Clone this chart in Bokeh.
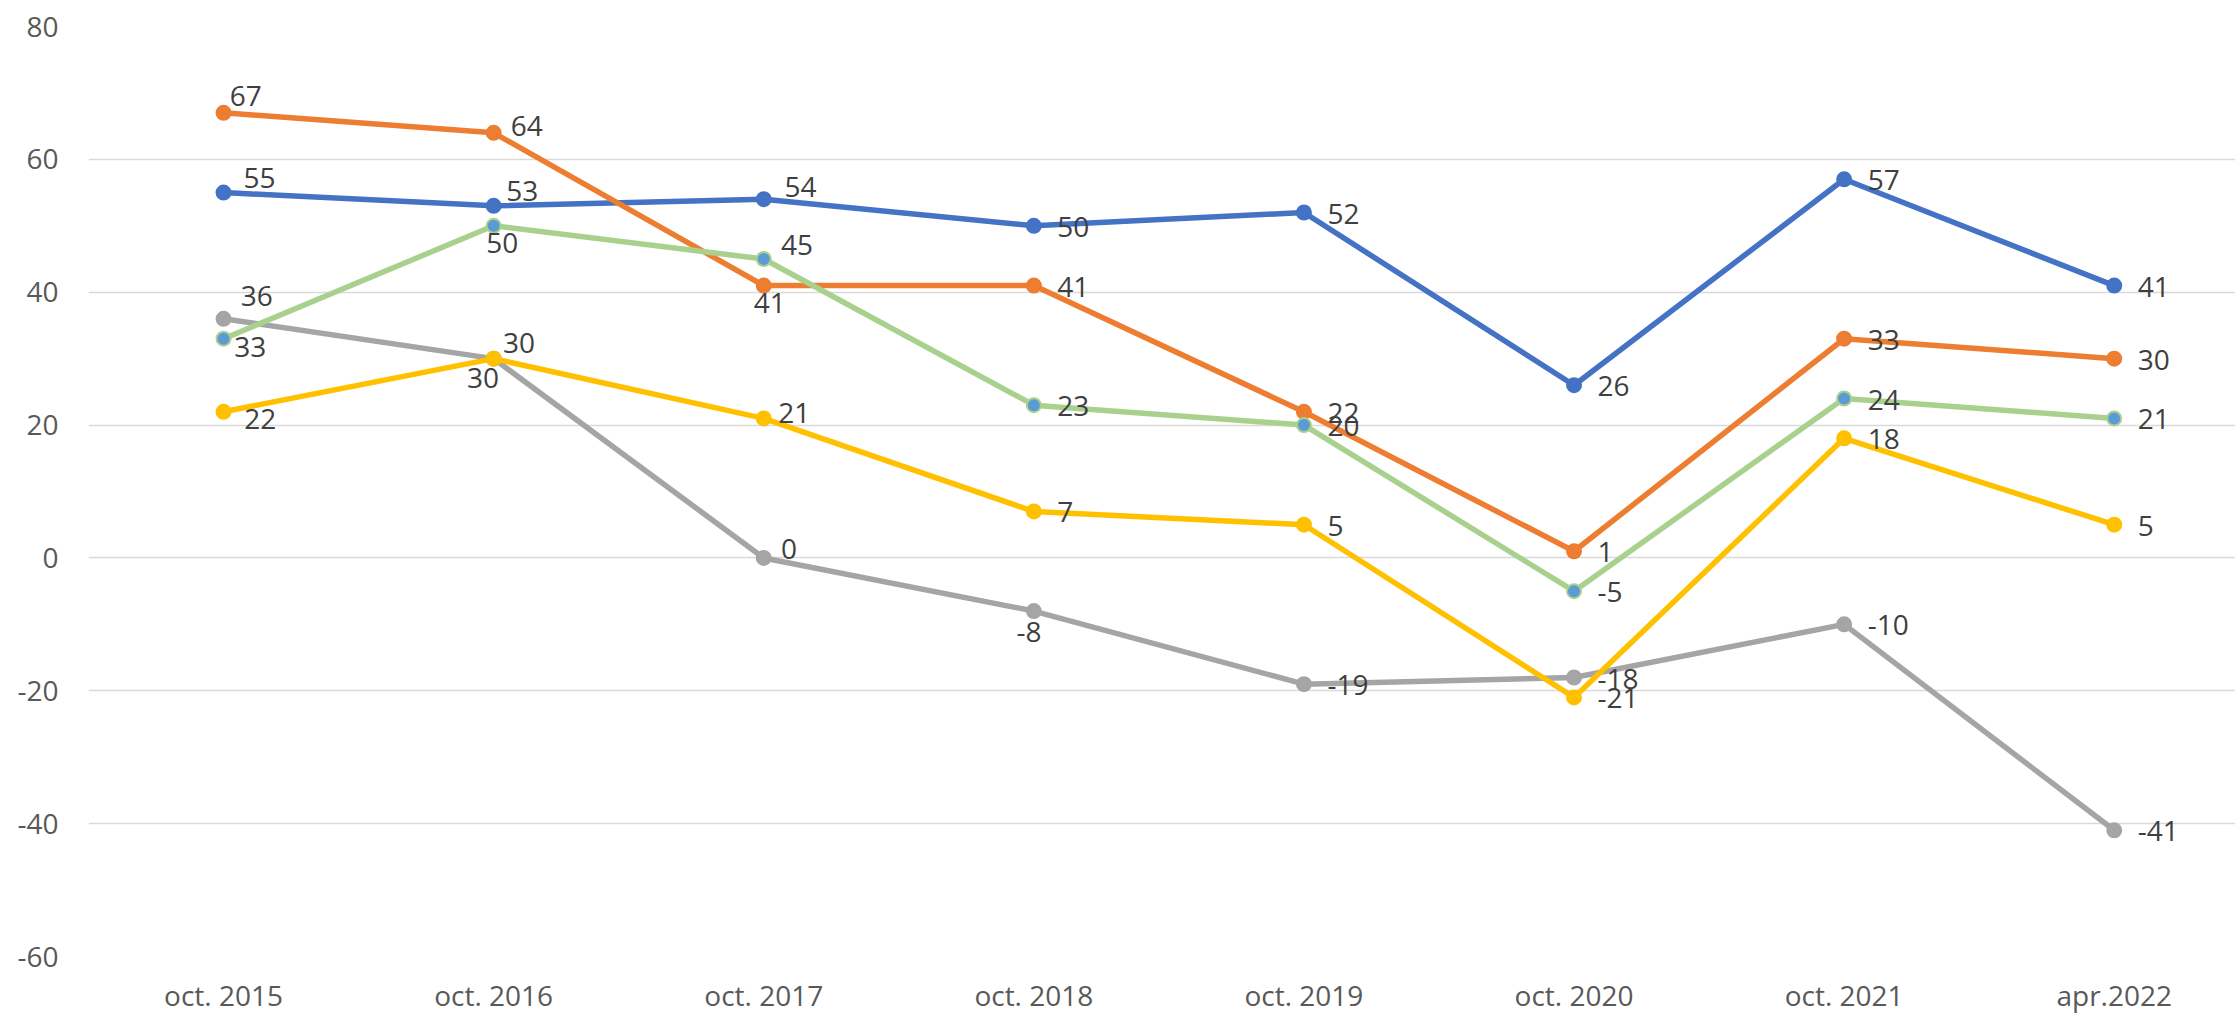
from bokeh.plotting import figure
from bokeh.models import FixedTicker, ColumnDataSource
from bokeh.core.properties import value
from bokeh.embed import file_html
from bokeh.resources import INLINE

# ---- data ----
categories = ["oct. 2015", "oct. 2016", "oct. 2017", "oct. 2018",
              "oct. 2019", "oct. 2020", "oct. 2021", "apr.2022"]
blue = [55, 53, 54, 50, 52, 26, 57, 41]
orange = [67, 64, 41, 41, 22, 1, 33, 30]
gray = [36, 30, 0, -8, -19, -18, -10, -41]
yellow = [22, 30, 21, 7, 5, -21, 18, 5]
green = [33, 50, 45, 23, 20, -5, 24, 21]
y_ticks = [-60, -40, -20, 0, 20, 40, 60, 80]

# ---- label placement (pixels: left edge dx, vertical centre dy) ----
R = (23.5, 1)
blue_lbl = [(20, -15), (12.7, -15), (20.7, -12), R, R, R, R, R]
orange_lbl = [(6.3, -17), (17, -7), (-10, 17.7), R, R, R, R, R]
gray_lbl = [(17.3, -22.3), (-26.6, 19), (17.3, -9.4), (-17.3, 20.6), R, R, R, R]
yellow_lbl = [(20.6, 7.3), (9.4, -16), (14.6, -5.4), R, R, R, R, R]
green_lbl = [(10.7, 8.3), (-7.3, 17.7), (17.3, -14.2), R, R, R, R, R]

FONT = "Open Sans"
xs = list(range(len(categories)))

p = figure(width=2235, height=1016,
           x_range=(-0.5, 7.449), y_range=(-60, 80),
           output_backend="svg", toolbar_location=None,
           min_border_left=88, min_border_top=26,
           min_border_bottom=58, min_border_right=0)

p.outline_line_color = None
p.background_fill_color = "white"
p.border_fill_color = "white"

p.xaxis.ticker = FixedTicker(ticks=xs)
p.xaxis.major_label_overrides = {i: c for i, c in enumerate(categories)}
p.yaxis.ticker = FixedTicker(ticks=y_ticks)
p.yaxis.major_label_overrides = {t: str(t) for t in y_ticks}
for ax in (p.xaxis, p.yaxis):
    ax.axis_line_color = None
    ax.major_tick_line_color = None
    ax.minor_tick_line_color = None
    ax.major_tick_out = 0
    ax.major_tick_in = 0
    ax.major_label_text_font = FONT
    ax.major_label_text_font_size = "28px"
    ax.major_label_text_color = "#595959"
p.yaxis.major_label_standoff = 30
p.xaxis.major_label_standoff = 19

p.xgrid.visible = False
p.ygrid.ticker = FixedTicker(ticks=y_ticks)
p.ygrid.grid_line_color = "#d9d9d9"
p.ygrid.grid_line_width = 1.5

series = [
    (blue, "#4472C4", "#4472C4", "#4472C4", blue_lbl),
    (orange, "#ED7D31", "#ED7D31", "#ED7D31", orange_lbl),
    (gray, "#A5A5A5", "#A5A5A5", "#A5A5A5", gray_lbl),
    (yellow, "#FFC000", "#FFC000", "#FFC000", yellow_lbl),
    (green, "#A9D18E", "#5B9BD5", "#A9D18E", green_lbl),
]

for vals, lc, mfill, mline, _ in series:
    p.line(xs, vals, line_color=lc, line_width=5.5,
           line_join="round", line_cap="round")
    p.scatter(xs, vals, size=14, fill_color=mfill, line_color=mline,
              line_width=2)

for vals, _, _, _, lbl in series:
    src = ColumnDataSource(dict(
        x=xs, y=vals, t=[str(v) for v in vals],
        dx=[d[0] for d in lbl], dy=[d[1] for d in lbl]))
    p.text(x="x", y="y", text="t", x_offset="dx", y_offset="dy", source=src,
           text_align="left", text_baseline="middle",
           text_font=value(FONT), text_font_size=value("28px"),
           text_color="#3f3f3f")

open("out.html", "w").write(file_html(p, INLINE))
